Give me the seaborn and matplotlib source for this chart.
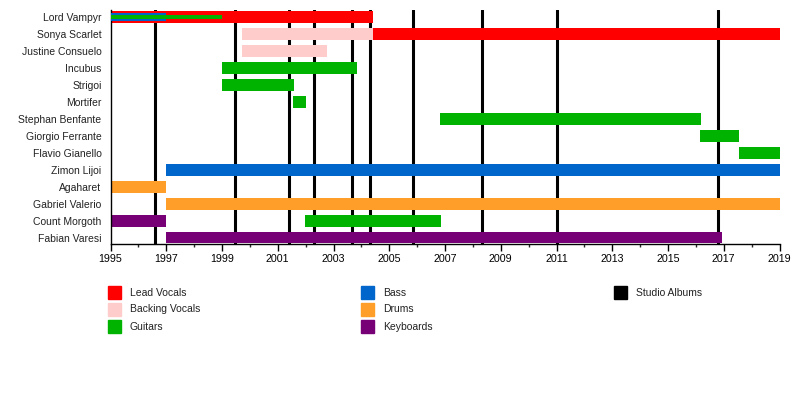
import numpy as np
import pandas as pd
import seaborn as sns
import matplotlib.pyplot as plt
from matplotlib.patches import Rectangle

# members top to bottom
members = ["Lord Vampyr", "Sonya Scarlet", "Justine Consuelo", "Incubus",
           "Strigoi", "Mortifer", "Stephan Benfante", "Giorgio Ferrante",
           "Flavio Gianello", "Zimon Lijoi", "Agaharet", "Gabriel Valerio",
           "Count Morgoth", "Fabian Varesi"]

# one entry per bar: member, role, start, end
bar_member = ["Lord Vampyr", "Lord Vampyr", "Lord Vampyr",
              "Sonya Scarlet", "Sonya Scarlet", "Justine Consuelo",
              "Incubus", "Strigoi", "Mortifer", "Stephan Benfante",
              "Giorgio Ferrante", "Flavio Gianello", "Zimon Lijoi",
              "Agaharet", "Gabriel Valerio", "Count Morgoth",
              "Count Morgoth", "Fabian Varesi"]
bar_role = ["Lead Vocals", "Bass", "Guitars",
            "Backing Vocals", "Lead Vocals", "Backing Vocals",
            "Guitars", "Guitars", "Guitars", "Guitars",
            "Guitars", "Guitars", "Bass",
            "Drums", "Drums", "Keyboards",
            "Guitars", "Keyboards"]
bar_start = [1995.0, 1995.0, 1995.0,
             1999.73, 2004.42, 1999.73,
             1999.0, 1999.0, 2001.55, 2006.82,
             2016.15, 2017.53, 1997.0,
             1995.0, 1997.0, 1995.0,
             2001.98, 1997.0]
bar_end = [2004.42, 1997.0, 1999.0,
           2004.42, 2019.0, 2002.77,
           2003.85, 2001.59, 2002.02, 2016.17,
           2017.53, 2019.0, 2019.0,
           1997.0, 2019.0, 1997.0,
           2006.85, 2016.92]
# secondary roles drawn as thinner bars inside the main one
bar_thin = [0, 1, 2, 0, 0, 0, 0, 0, 0, 0, 0, 0, 0, 0, 0, 0, 0, 0]

albums = [1996.61, 1999.48, 2001.41, 2002.3, 2003.67, 2004.31,
          2005.85, 2008.32, 2011.0, 2016.78]

major_years = list(range(1995, 2020, 2))
minor_years = list(range(1995, 2020))

roles = ["Lead Vocals", "Backing Vocals", "Guitars", "Bass", "Drums", "Keyboards"]
role_colors = ["#ff0000", "#ffcccc", "#00b300", "#0066cc", "#ff9f2a", "#770077"]
cmap = dict(zip(roles, role_colors))

df = pd.DataFrame({"member": bar_member, "role": bar_role,
                   "start": bar_start, "end": bar_end, "thin": bar_thin})
df["row"] = df["member"].map({m: i for i, m in enumerate(members)})

sns.set_style("white")
plt.rcParams['font.family'] = ['Liberation Sans', 'DejaVu Sans']

fig = plt.figure(figsize=(8, 3.94), dpi=100)
ax = fig.add_axes([110.5/800, 1-244/394, (779.5-110.5)/800, 234/394])

for yr in albums:
    ax.axvline(yr, color='black', lw=2.2, zorder=1)

heights = {0: 0.7, 1: 0.47, 2: 0.24}
for thin in [0, 1, 2]:
    d = df[df["thin"] == thin]
    ax.barh(d["row"], d["end"] - d["start"], left=d["start"],
            height=heights[thin], color=d["role"].map(cmap),
            linewidth=0, zorder=2 + thin)

ax.set_xlim(1995, 2019)
ax.set_ylim(13.38, -0.41)
ax.set_yticks(range(len(members)))
ax.set_yticklabels(members)
ax.set_xticks(major_years)
ax.set_xticklabels([str(y) for y in major_years])
ax.set_xticks(minor_years, minor=True)
ax.tick_params(axis='y', length=0, pad=6.5, labelsize=7.5, colors='#222222')
ax.tick_params(axis='x', which='major', length=5, width=1, pad=2,
               labelsize=7.7, bottom=True, colors='black')
ax.tick_params(axis='x', which='minor', length=2.5, width=1, bottom=True)
for s in ['top', 'right']:
    ax.spines[s].set_visible(False)
for s in ['left', 'bottom']:
    ax.spines[s].set_color('black')
    ax.spines[s].set_linewidth(1)

# legend laid out in three columns like the original
leg_items = [("Lead Vocals", cmap["Lead Vocals"]),
             ("Backing Vocals", cmap["Backing Vocals"]),
             ("Guitars", cmap["Guitars"]),
             ("Bass", cmap["Bass"]),
             ("Drums", cmap["Drums"]),
             ("Keyboards", cmap["Keyboards"]),
             ("Studio Albums", "black")]
col_x = [108, 361, 614]
for i, (lab, col) in enumerate(leg_items):
    c, r = divmod(i, 3)
    x0 = col_x[c]
    y0 = 286 + r * 17
    fig.patches.append(Rectangle((x0/800, 1-(y0+13)/394), 13/800, 13/394,
                                 transform=fig.transFigure, color=col))
    fig.text((x0+22)/800, 1-(y0+6.5)/394, lab, fontsize=7.5,
             va='center', ha='left', color='#222222')

fig.savefig("out.png", dpi=100)
